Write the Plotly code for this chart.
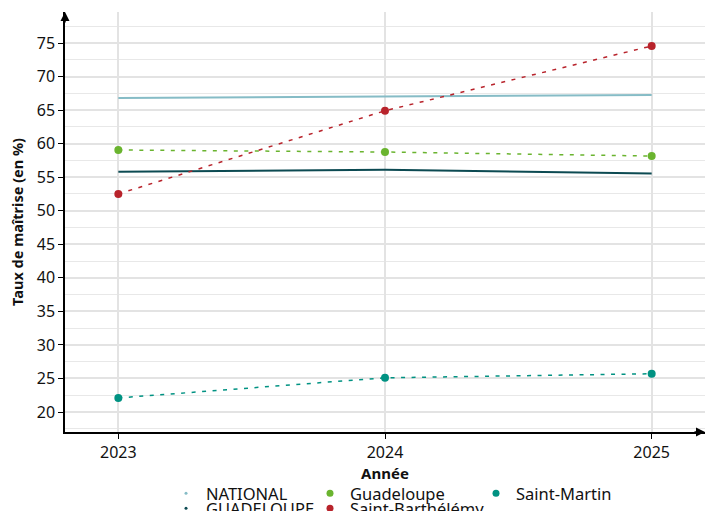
import plotly.graph_objects as go

years = [2023, 2024, 2025]
national = [66.8, 67.0, 67.25]
guadeloupe_acad = [55.8, 56.1, 55.55]
guadeloupe = [59.05, 58.75, 58.15]
saint_barth = [52.5, 64.9, 74.55]
saint_martin = [22.1, 25.1, 25.7]

y_ticks = [20, 25, 30, 35, 40, 45, 50, 55, 60, 65, 70, 75]
x_ticks = [2023, 2024, 2025]

C_NAT = "#86bcc6"
C_GUA = "#0c4a52"
C_GREEN = "#6ab42f"
C_RED = "#b8232b"
C_SM = "#009282"

FONT = "Noto Sans"

fig = go.Figure()

fig.add_trace(go.Scatter(x=years, y=national, mode="lines",
                         line=dict(color=C_NAT, width=2), showlegend=False))
fig.add_trace(go.Scatter(x=years, y=guadeloupe_acad, mode="lines",
                         line=dict(color=C_GUA, width=2), showlegend=False))
for vals, col in [(guadeloupe, C_GREEN), (saint_barth, C_RED), (saint_martin, C_SM)]:
    fig.add_trace(go.Scatter(x=years, y=vals, mode="lines+markers",
                             line=dict(color=col, width=1.5, dash="4px,6.5px"),
                             marker=dict(color=col, size=8), showlegend=False))

PLOT_L, PLOT_W, PLOT_B, PLOT_H = 65, 640, 432, 420
legfont = dict(family=FONT, size=16.5, color="#111")

entries = [
    # name, colour, marker size, legend id, left px, centre px
    ("NATIONAL", C_NAT, 3, "legend", 166, 493.5),
    ("GUADELOUPE", C_GUA, 3, "legend2", 166, 508.5),
    ("Guadeloupe", C_GREEN, 7, "legend3", 310, 493.5),
    ("Saint-Barthélémy", C_RED, 7, "legend4", 310, 508.5),
    ("Saint-Martin", C_SM, 7, "legend5", 476, 493.5),
]

layout_legends = {}
for name, col, size, lid, px, py in entries:
    fig.add_trace(go.Scatter(x=[None], y=[None], mode="markers", name=name,
                             marker=dict(color=col, size=size), legend=lid))
    layout_legends[lid] = dict(
        x=(px - PLOT_L) / PLOT_W, y=(PLOT_B - py) / PLOT_H,
        xanchor="left", yanchor="middle", orientation="v",
        font=legfont, bgcolor="rgba(0,0,0,0)", itemwidth=30)

fig.update_layout(
    width=706, height=511,
    margin=dict(l=65, r=1, t=12, b=79, autoexpand=False),
    plot_bgcolor="white", paper_bgcolor="white",
    font=dict(family=FONT, size=15, color="#111"),
    xaxis=dict(range=[2022.8, 2025.2], tickvals=x_ticks, ticktext=[str(v) for v in x_ticks],
               showgrid=True, gridcolor="#e3e3e3", gridwidth=1.5,
               showline=True, linecolor="black", linewidth=1.5,
               ticks="outside", ticklen=5, tickcolor="black", tickwidth=1,
               tickfont=dict(size=16), zeroline=False,
               title=dict(text="<b>Année</b>", font=dict(size=15), standoff=7)),
    yaxis=dict(range=[17.02, 79.62], tickvals=y_ticks,
               showgrid=True, gridcolor="#e3e3e3", gridwidth=1.5,
               minor=dict(dtick=2.5, tick0=0, showgrid=True, gridcolor="#e8e8e8", gridwidth=1.2),
               showline=True, linecolor="black", linewidth=1.5,
               ticks="outside", ticklen=5, tickcolor="black", tickwidth=1,
               tickfont=dict(size=16), zeroline=False,
               title=dict(text="<b>Taux de maîtrise (en %)</b>", font=dict(size=14.5), standoff=10)),
    **layout_legends,
)

fig.add_annotation(x=0, y=1, xref="paper", yref="paper", ax=0, ay=12, text="",
                   showarrow=True, arrowhead=2, arrowsize=1.2, arrowwidth=1.5, arrowcolor="black")
fig.add_annotation(x=1, y=0, xref="paper", yref="paper", ax=-12, ay=0, text="",
                   showarrow=True, arrowhead=2, arrowsize=1.2, arrowwidth=1.5, arrowcolor="black")

fig.write_html("out.html", config={"displayModeBar": False},
               post_script="document.body.style.margin='0';document.body.style.overflow='hidden';")
